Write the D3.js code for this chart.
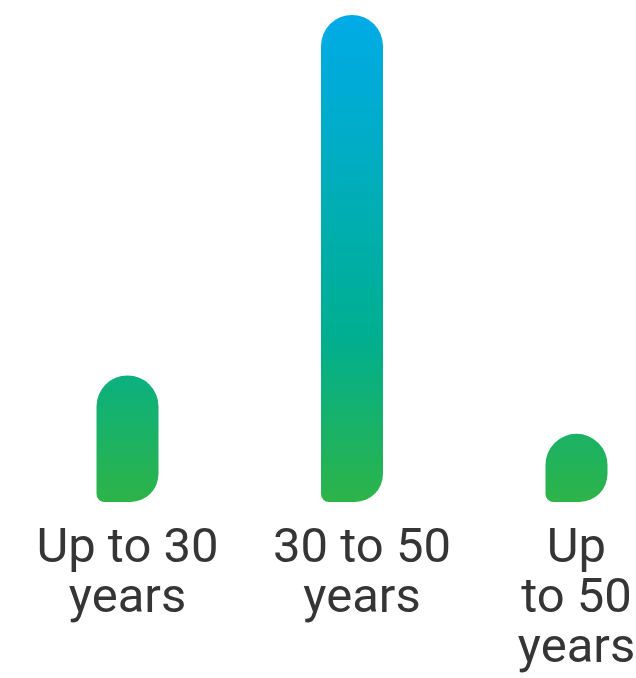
<!DOCTYPE html>
<html>
<head>
<meta charset="utf-8">
<script src="https://cdn.jsdelivr.net/npm/d3@7"></script>
<style>
  html, body { margin: 0; padding: 0; background: #fff; }
  svg { display: block; }
</style>
</head>
<body>
<div class="visContainer"></div>
<script>
const w = 636;
const h = 678;

// data
const categories = ['Up to 30 years', '30 to 50 years', 'Up to 50 years'];
const labelLines = [['Up to 30', 'years'], ['30 to 50', 'years'], ['Up', 'to 50', 'years']];
const values = [26, 100, 14];

const barWidth = 62;
const rTop = barWidth / 2;
const rBL = 8;
const rBR = 28;

const svg = d3
	.select('.visContainer')
	.append('svg')
	.attr('width', w)
	.attr('height', h);

const xScale = d3.scalePoint().domain(categories).range([127.5, 576.5]);
const yScale = d3.scaleLinear().domain([0, 100]).range([502, 15]);

const defs = svg.append('defs');
const grad = defs
	.append('linearGradient')
	.attr('id', 'barGrad')
	.attr('gradientUnits', 'userSpaceOnUse')
	.attr('x1', 0)
	.attr('x2', 0)
	.attr('y1', yScale(100))
	.attr('y2', yScale(0));
grad.append('stop').attr('offset', '0%').attr('stop-color', '#00abe8');
grad.append('stop').attr('offset', '66%').attr('stop-color', '#00af90');
grad.append('stop').attr('offset', '100%').attr('stop-color', '#2db448');

// rounded bar: full round top, small bottom-left, large bottom-right
function barPath(cx, top, bottom) {
	const x0 = cx - barWidth / 2;
	const x1 = cx + barWidth / 2;
	const p = d3.path();
	p.moveTo(x0, top + rTop);
	p.arcTo(x0, top, cx, top, rTop);
	p.arcTo(x1, top, x1, top + rTop, rTop);
	p.lineTo(x1, bottom - rBR);
	p.arcTo(x1, bottom, x1 - rBR, bottom, rBR);
	p.lineTo(x0 + rBL, bottom);
	p.arcTo(x0, bottom, x0, bottom - rBL, rBL);
	p.closePath();
	return p.toString();
}

svg
	.selectAll('path.bar')
	.data(values)
	.enter()
	.append('path')
	.attr('class', 'bar')
	.attr('d', (d, i) => barPath(xScale(categories[i]), yScale(d), yScale(0)))
	.style('fill', 'url(#barGrad)');

const labels = svg
	.selectAll('text.label')
	.data(categories)
	.enter()
	.append('text')
	.attr('class', 'label')
	.attr('text-anchor', 'middle')
	.attr('x', (d) => xScale(d) + (d === '30 to 50 years' ? 10 : 0))
	.attr('y', 562)
	.style('font-family', 'Roboto, sans-serif')
	.style('font-size', '49px')
	.style('fill', '#353535');

labels
	.selectAll('tspan')
	.data((d, i) => labelLines[i])
	.enter()
	.append('tspan')
	.attr('x', function () {
		return this.parentNode.getAttribute('x');
	})
	.attr('dy', (d, i) => (i === 0 ? 0 : 50))
	.text((d) => d);
</script>
</body>
</html>
